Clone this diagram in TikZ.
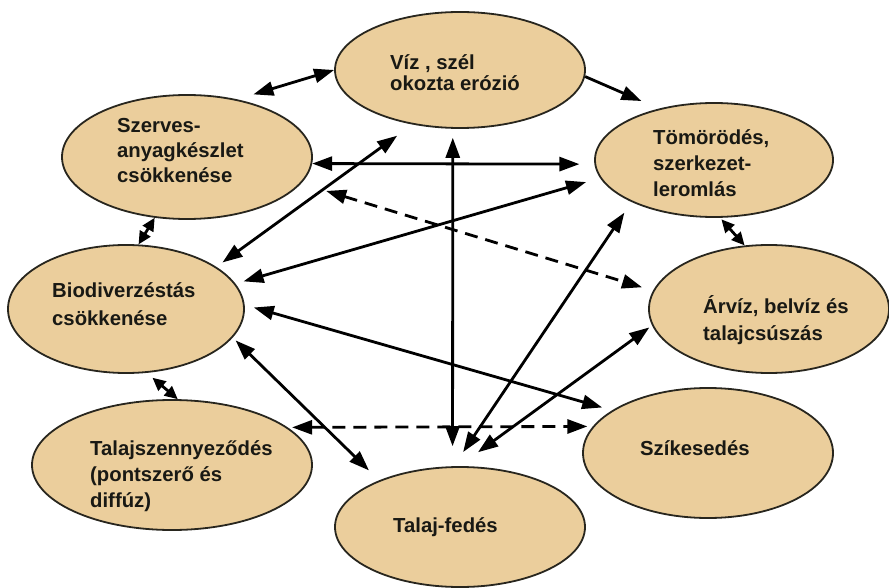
\documentclass[tikz,border=0pt]{standalone}
\usepackage{fontspec}
\newfontfamily\lbl{Liberation Sans}
\usetikzlibrary{shapes.geometric,arrows.meta}
\definecolor{eltan}{RGB}{235,206,156}
\definecolor{bubline}{RGB}{40,38,30}
\definecolor{txt}{RGB}{25,25,20}
\begin{document}
\begin{tikzpicture}[x=1pt,y=-1pt,
  bub/.style={ellipse, draw=bubline, line width=1.8pt, fill=eltan, inner sep=0pt},
  lab/.style={anchor=base west, inner sep=0pt, text=txt, font=\lbl\bfseries\fontsize{20.3}{25}\selectfont},
  two/.style={line width=2.8pt, {Triangle[length=20pt,width=14pt]}-{Triangle[length=20pt,width=14pt]}},
  one/.style={line width=2.8pt, -{Triangle[length=20pt,width=14pt]}},
  short/.style={line width=2.8pt, {Triangle[length=13pt,width=12pt]}-{Triangle[length=13pt,width=12pt]}},
  dsh/.style={dash pattern=on 13pt off 8pt}]
\useasboundingbox (0,0) rectangle (889,588);

% ellipses
\node[bub, minimum width=250pt, minimum height=116pt] (V) at (460,70) {};
\node[bub, minimum width=250pt, minimum height=124pt] (S) at (187,157) {};
\node[bub, minimum width=238pt, minimum height=114pt] (T) at (714,160) {};
\node[bub, minimum width=236pt, minimum height=128pt] (B) at (126,309) {};
\node[bub, minimum width=240pt, minimum height=128pt] (A) at (769,309) {};
\node[bub, minimum width=250pt, minimum height=130pt] (K) at (708,453) {};
\node[bub, minimum width=280pt, minimum height=130pt] (P) at (172,465) {};
\node[bub, minimum width=250pt, minimum height=120pt] (F) at (460,527) {};

% labels
\node[lab] (V1) at (390,70) {Víz , szél};
\node[lab] (V2) at (390,91) {okozta erózió};
\node[lab] (S1) at (117,133) {Szerves-};
\node[lab] (S2) at (117,158) {anyagkészlet};
\node[lab] (S3) at (117,183) {csökkenése};
\node[lab] (T1) at (653,145) {Tömörödés,};
\node[lab] (T2) at (653,171) {szerkezet-};
\node[lab] (T3) at (653,197) {leromlás};
\node[lab] (B1) at (52,298) {Biodiverzéstás};
\node[lab] (B2) at (52,325) {csökkenése};
\node[lab] (A1) at (703,313) {Árvíz, belvíz és};
\node[lab] (A2) at (703,340) {talajcsúszás};
\node[lab] (K1) at (640,455) {Szíkesedés};
\node[lab] (P1) at (90,455) {Talajszennyeződés};
\node[lab] (P2) at (90,481) {(pontszerő és};
\node[lab] (P3) at (90,507) {diffúz)};
\node[lab] (F1) at (393,532) {Talaj-fedés};

% connectors
\draw[two, shorten <=17pt] (S.49) -- (V.180);
\draw[one, shorten >=19pt] (V.-3) -- (T.137);
\draw[two, shorten >=15pt] (S.-3) -- (T.182);
\draw[two, shorten <=7.5pt, shorten >=19pt] (B.25) -- (V.229);
\draw[two, dsh, shorten <=26pt, shorten >=11.5pt] (S.-13) -- (A.171);
\draw[two, shorten <=8.4pt, shorten >=14.6pt] (B.13) -- (T.189);
\draw[two, shorten <=9pt, shorten >=20pt] (V.263) -- (F.97);
\draw[two, shorten <=12.8pt, shorten >=17pt] (T.207) -- (F.96);
\draw[two, shorten <=3.4pt, shorten >=23.6pt] (A.188) -- (F.91);
\draw[two, shorten <=9.5pt, shorten >=10.3pt] (B.2) -- (K.156);
\draw[two, shorten <=4pt, shorten >=14.2pt] (B.-15) -- (F.150);
\draw[two, dsh, shorten <=4.4pt, shorten >=5.4pt] (P.18.5) -- (K.167.2);
\draw[short, shorten >=7.5pt] (P.85) -- (B.-72);
\draw[short] (S.-118) -- (B.79);
\draw[short, shorten <=2pt] (T.-84) -- (A.111);
\end{tikzpicture}
\end{document}
